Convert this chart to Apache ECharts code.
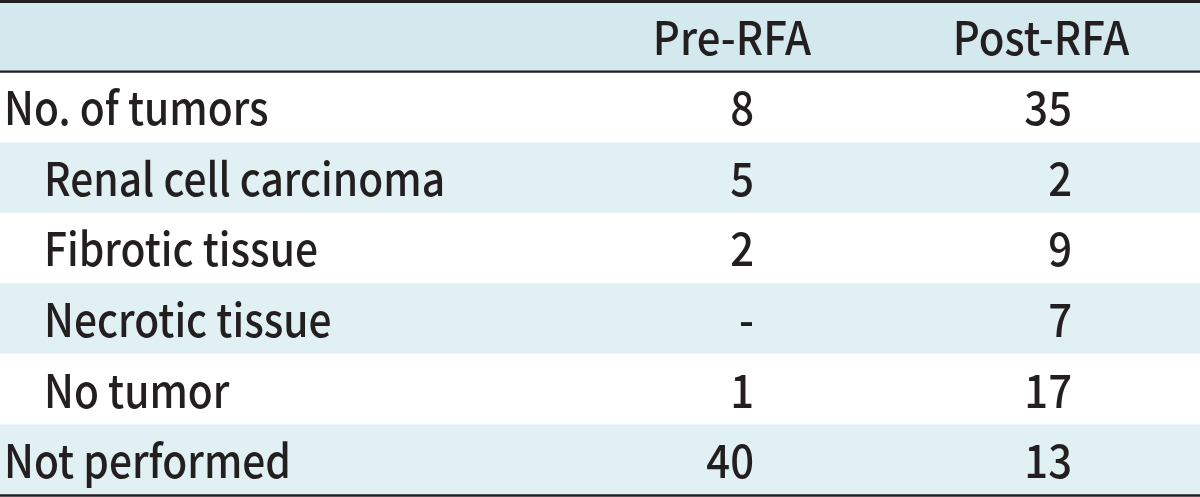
<!DOCTYPE html>
<html>
<head>
<meta charset="utf-8">
<script src="https://cdn.jsdelivr.net/npm/echarts@6/dist/echarts.min.js"></script>
<style>
html,body{margin:0;padding:0;background:#fff;}
#chart{width:1200px;height:497px;}
</style>
</head>
<body>
<div id="chart"></div>
<script>
// ---- table content ----
const columnHeaders = ['', 'Pre-RFA', 'Post-RFA'];
const rowLabels = ['No. of tumors', 'Renal cell carcinoma', 'Fibrotic tissue', 'Necrotic tissue', 'No tumor', 'Not performed'];
const rowLevel = [0, 1, 1, 1, 1, 0];
const preRFA = ['8', '5', '2', '-', '1', '40'];
const postRFA = ['35', '2', '9', '7', '17', '13'];

// ---- layout / style ----
const FONT = '"Noto Sans CJK KR", "Noto Sans", sans-serif';
const FONT_SIZE = 46;
const SCALE_X = 0.91;
const LABEL_SCALE_X = 0.885;
const TEXT_COLOR = '#231f20';
const HEADER_BG = '#d4e9ee';
const STRIPE_BG = '#e1f0f3';
const X_LABEL = [4, 44];
const X_PRE_HEADER = 732, X_POST_HEADER = 1041;
const X_PRE_VALUE = 754, X_POST_VALUE = 1072;

const yCats = ['header'].concat(rowLabels);

const chart = echarts.init(document.getElementById('chart'), null, {renderer: 'canvas'});

function txt(x, y, s, align, sx) {
  return {
    type: 'text',
    x: x, y: y + 1,
    scaleX: sx || SCALE_X,
    style: {
      x: 0, y: 0,
      text: s, fill: TEXT_COLOR, font: '500 ' + FONT_SIZE + 'px ' + FONT,
      align: align, verticalAlign: 'middle'
    }
  };
}

function renderItem(params, api) {
  const i = api.value(1);
  const c = api.coord([0, i]);
  const h = api.size([0, 1])[1];
  const top = c[1] - h / 2, bot = c[1] + h / 2;
  const x0 = api.coord([0, i])[0], x1 = api.coord([1200, i])[0];
  const X = v => api.coord([v, i])[0];
  const children = [];
  let bg = null;
  if (i === 0) bg = HEADER_BG; else if (i % 2 === 0) bg = STRIPE_BG;
  if (bg) children.push({type: 'rect', shape: {x: x0, y: top, width: x1 - x0, height: h}, style: {fill: bg}});
  const cy = c[1];
  if (i === 0) {
    children.push(txt(X(X_PRE_HEADER), cy, columnHeaders[1], 'center'));
    children.push(txt(X(X_POST_HEADER), cy, columnHeaders[2], 'center'));
    children.push({type: 'line', shape: {x1: x0, y1: top + 0.5, x2: x1, y2: top + 0.5}, style: {stroke: TEXT_COLOR, lineWidth: 3}});
    children.push({type: 'line', shape: {x1: x0, y1: bot, x2: x1, y2: bot}, style: {stroke: TEXT_COLOR, lineWidth: 2.2}});
  } else {
    const r = i - 1;
    children.push(txt(X(X_LABEL[rowLevel[r]]), cy, rowLabels[r], 'left', LABEL_SCALE_X));
    children.push(txt(X(X_PRE_VALUE), cy, preRFA[r], 'right'));
    children.push(txt(X(X_POST_VALUE), cy, postRFA[r], 'right'));
    if (r === rowLabels.length - 1) {
      children.push({type: 'line', shape: {x1: x0, y1: bot + 0.5, x2: x1, y2: bot + 0.5}, style: {stroke: TEXT_COLOR, lineWidth: 2.5}});
    }
  }
  return {type: 'group', children: children};
}

chart.setOption({
  animation: false,
  backgroundColor: '#ffffff',
  grid: {left: 0, right: 0, top: 1, bottom: 2},
  xAxis: {type: 'value', min: 0, max: 1200, show: false},
  yAxis: {type: 'category', data: yCats, inverse: true, show: false},
  series: [{
    type: 'custom',
    renderItem: renderItem,
    data: yCats.map((_, i) => [0, i]),
    silent: true
  }]
});
</script>
</body>
</html>
